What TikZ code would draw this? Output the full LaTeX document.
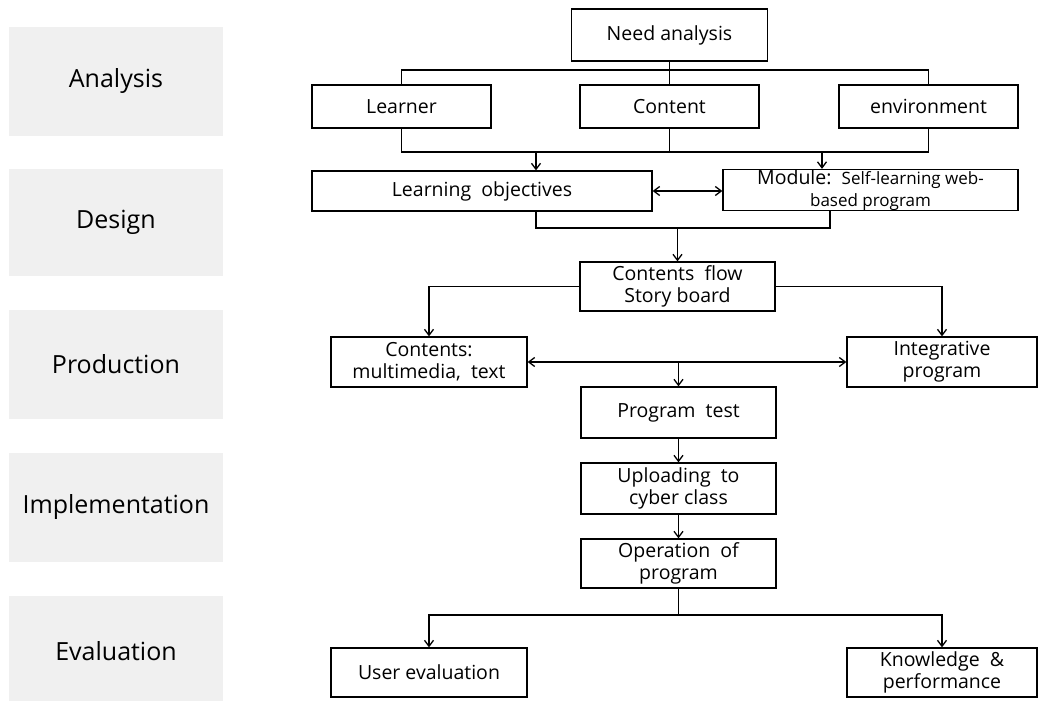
\documentclass[tikz,border=0pt]{standalone}
\usepackage{fontspec}
\setmainfont{Open Sans}
\usetikzlibrary{arrows.meta}
\tikzset{
  every picture/.style={x=1pt,y=-1pt},
  box/.style={draw, line width=1.3pt, inner sep=0pt, align=center, font=\fontsize{19.5}{22}\selectfont},
  phase/.style={fill=black!6, inner sep=0pt, font=\fontsize{25}{27}\selectfont, minimum width=214pt},
  conn/.style={line width=1.3pt},
  arr/.style={conn, -{Straight Barb[length=6pt,width=9pt]}},
  darr/.style={conn, {Straight Barb[length=6pt,width=9pt]}-{Straight Barb[length=6pt,width=9pt]}}
}
\begin{document}
\begin{tikzpicture}
\useasboundingbox (0,0) rectangle (1039,701);
% phases
\node[phase, minimum height=109pt] (ph1) at (116,81.5) {Analysis};
\node[phase, minimum height=107pt] (ph2) at (116,222.5) {Design};
\node[phase, minimum height=109pt] (ph3) at (116,364.5) {Production};
\node[phase, minimum height=109pt] (ph4) at (116,507.5) {Implementation};
\node[phase, minimum height=110pt] (ph5) at (116,651) {Evaluation};
% boxes
\node[box, minimum width=196pt, minimum height=52pt] (na) at (669.5,35) {Need analysis};
\node[box, minimum width=179pt, minimum height=43pt] (ln) at (401.5,106.5) {Learner};
\node[box, minimum width=179pt, minimum height=43pt] (ct) at (669.5,106.5) {Content};
\node[box, minimum width=179pt, minimum height=43pt] (env) at (928.5,106.5) {environment};
\node[box, minimum width=340pt, minimum height=40pt] (lo) at (482,191) {Learning\ \ objectives};
\node[box, minimum width=295pt, minimum height=40pt] (mod) at (870.5,190) {Module:\ \ \fontsize{17}{19}\selectfont Self-learning web-\\\fontsize{17}{19}\selectfont based program};
\node[box, minimum width=195pt, minimum height=49pt] (cf) at (677.5,286.5) {Contents\ \ flow\\Story board};
\node[box, minimum width=196pt, minimum height=50pt] (cm) at (429,362) {Contents:\\multimedia,\ \ text};
\node[box, minimum width=190pt, minimum height=50pt] (ig) at (942,362) {Integrative\\program};
\node[box, minimum width=195pt, minimum height=51pt] (pt) at (678.5,412.5) {Program\ \ test};
\node[box, minimum width=195pt, minimum height=51pt] (up) at (678.5,488.5) {Uploading\ \ to\\cyber class};
\node[box, minimum width=195pt, minimum height=49pt] (op) at (678.5,563.5) {Operation\ \ of\\program};
\node[box, minimum width=196pt, minimum height=49pt] (ue) at (429,672.5) {User evaluation};
\node[box, minimum width=190pt, minimum height=49pt] (kp) at (942,672.5) {Knowledge\ \ \&\\performance};
% coordinates
\coordinate (b1) at (669.5,70);
\coordinate (b2) at (669.5,152);
\coordinate (a1) at (536,152);
\coordinate (a2) at (822,152);
\coordinate (p1) at (536,228);
\coordinate (p2) at (830,228);
\coordinate (q) at (678.5,615);
% connectors
\draw[conn] (na.south) -- (b1);
\draw[conn] (ln.north) |- (b1) -| (env.north);
\draw[conn] (b1) -- (ct.north);
\draw[conn] (ln.south) |- (b2) -| (env.south);
\draw[conn] (ct.south) -- (b2);
\draw[arr] (a1) -- (a1 |- lo.north);
\draw[arr] (a2) -- (a2 |- mod.north);
\draw[darr] (lo.east) -- (lo.east -| mod.west);
\draw[conn] (p1 |- lo.south) -- (p1) -- (p2) -- (p2 |- mod.south);
\draw[arr] (cf.north |- p1) -- (cf.north);
\draw[arr] (cf.west) -| (cm.north);
\draw[arr] (cf.east) -| (ig.north);
\draw[darr] (cm.east) -- (ig.west);
\draw[arr] (pt.north |- cm.east) -- (pt.north);
\draw[arr] (pt.south) -- (up.north);
\draw[arr] (up.south) -- (op.north);
\draw[conn] (op.south) -- (q);
\draw[arr] (q) -| (ue.north);
\draw[arr] (q) -| (kp.north);
\end{tikzpicture}
\end{document}
